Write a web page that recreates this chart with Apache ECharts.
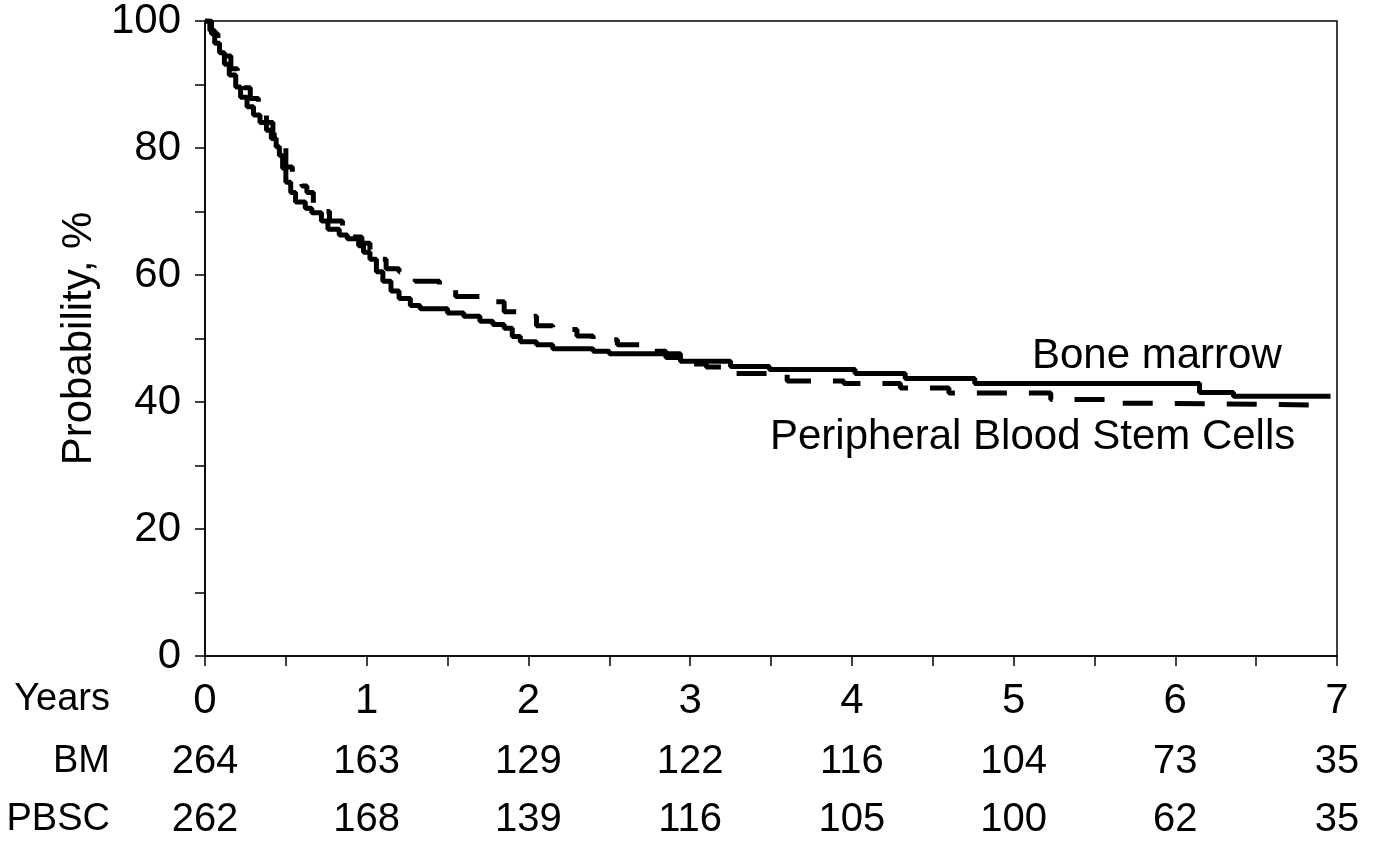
<!DOCTYPE html>
<html>
<head>
<meta charset="utf-8">
<script src="https://cdn.jsdelivr.net/npm/echarts@6/dist/echarts.min.js"></script>
<style>
  html, body { margin: 0; padding: 0; background: #fff; }
  #chart { width: 1376px; height: 842px; }
</style>
</head>
<body>
<div id="chart"></div>
<script>
  // Kaplan-Meier steps: [years, probability %]
  const bmSteps = [
    [0, 100], [0.03, 98.5], [0.06, 96.5], [0.09, 95], [0.12, 93.2], [0.15, 91.5],
    [0.19, 89.6], [0.22, 88], [0.26, 86.5], [0.3, 85.2], [0.34, 84], [0.38, 82.8],
    [0.41, 81.5], [0.44, 80.2], [0.46, 78.8], [0.48, 76.8], [0.5, 74.6], [0.53, 73],
    [0.56, 71.5], [0.62, 70.5], [0.66, 69.8], [0.72, 68.5], [0.76, 67.2], [0.83, 66.3],
    [0.88, 65.7], [0.95, 64.6], [0.98, 63.6], [1.02, 62.5], [1.06, 60.5], [1.1, 59],
    [1.15, 57.5], [1.2, 56.3], [1.27, 55.2], [1.33, 54.7], [1.5, 54], [1.6, 53.5],
    [1.7, 52.7], [1.78, 52.2], [1.85, 51.6], [1.9, 50.3], [1.95, 49.5], [2.05, 49],
    [2.15, 48.4], [2.4, 48], [2.5, 47.6], [2.94, 46.4], [3.25, 45.6], [3.49, 45.1],
    [4.02, 44.5], [4.33, 43.7], [4.76, 42.9], [6.15, 41.5], [6.36, 40.9], [6.96, 40.9]
  ]
  const pbscSteps = [
    [0, 100], [0.04, 98], [0.08, 96.5], [0.12, 94.5], [0.16, 92.5], [0.2, 91],
    [0.24, 89.5], [0.28, 87.8], [0.33, 86], [0.38, 84], [0.42, 82], [0.46, 80],
    [0.5, 77], [0.54, 75.5], [0.6, 74], [0.63, 73], [0.67, 71], [0.72, 70],
    [0.77, 68.5], [0.85, 67], [0.9, 66], [0.97, 65], [1.02, 64], [1.06, 62.5],
    [1.12, 61], [1.2, 60.5], [1.3, 59], [1.45, 58], [1.55, 56.6], [1.75, 55.8],
    [1.85, 54.2], [1.95, 53.5], [2.05, 52], [2.15, 51.4], [2.3, 50.4], [2.4, 49.8],
    [2.55, 49], [2.69, 48], [2.85, 47], [2.98, 46], [3.1, 45.5], [3.27, 44.5],
    [3.6, 43.3], [3.95, 42.9], [4.3, 42.2], [4.6, 41.4], [5.23, 40.4], [5.58, 39.8],
    [5.9, 39.5], [6.96, 39.5]
  ]
  const yearTicks = [0, 1, 2, 3, 4, 5, 6, 7]
  const bmAtRisk = [264, 163, 129, 122, 116, 104, 73, 35]
  const pbscAtRisk = [262, 168, 139, 116, 105, 100, 62, 35]
  const rowNames = ['Years', 'BM', 'PBSC']

  const font = 'Liberation Sans, Arial, sans-serif'
  const fs = 42
  const rowFs = 38
  const riskFs = 40
  const rowOffsets = [0, 61, 119]
  const rowTops = [681, 743, 801]

  const riskAxis = (values, offset) => ({
    type: 'value',
    position: 'bottom',
    min: 0,
    max: 7,
    interval: 1,
    offset: offset,
    axisLine: { show: false },
    axisTick: { show: false },
    splitLine: { show: false },
    axisLabel: {
      margin: 25,
      fontSize: riskFs,
      fontFamily: font,
      color: '#000',
      showMinLabel: true,
      showMaxLabel: true,
      formatter: v => {
        const i = yearTicks.indexOf(Math.round(v))
        return i >= 0 ? String(values[i]) : ''
      }
    }
  })

  const mychart = echarts.init(document.getElementById('chart'))
  const options = {
    animation: false,
    backgroundColor: '#fff',
    grid: {
      left: 205,
      right: 39,
      top: 18,
      bottom: 186,
      show: true,
      borderColor: '#000',
      borderWidth: 1.5
    },
    xAxis: [
      {
        type: 'value',
        min: 0,
        max: 7,
        interval: 1,
        axisLine: { show: true, lineStyle: { color: '#000', width: 1.5 } },
        axisTick: { show: true, length: 10, lineStyle: { color: '#000', width: 1.5 } },
        minorTick: { show: true, splitNumber: 2, length: 10, lineStyle: { color: '#000', width: 1.5 } },
        splitLine: { show: false },
        axisLabel: {
          margin: 24,
          fontSize: fs,
          fontFamily: font,
          color: '#000',
          showMinLabel: true,
          showMaxLabel: true
        }
      },
      riskAxis(bmAtRisk, rowOffsets[1]),
      riskAxis(pbscAtRisk, rowOffsets[2])
    ],
    yAxis: {
      type: 'value',
      min: 0,
      max: 100,
      interval: 10,
      name: 'Probability, %',
      nameLocation: 'middle',
      nameRotate: 90,
      nameGap: 104,
      nameTextStyle: { fontSize: fs, fontFamily: font, color: '#000' },
      axisLine: { show: true, lineStyle: { color: '#000', width: 1.5 } },
      axisTick: { show: true, length: 10, lineStyle: { color: '#000', width: 1.5 } },
      splitLine: { show: false },
      axisLabel: {
        margin: 24,
        fontSize: fs,
        fontFamily: font,
        color: '#000',
        formatter: v => (v % 20 === 0 ? String(v) : '')
      }
    },
    series: [
      {
        name: 'Bone marrow',
        type: 'line',
        step: 'end',
        showSymbol: false,
        lineStyle: { color: '#000', width: 5 },
        data: bmSteps
      },
      {
        name: 'Peripheral Blood Stem Cells',
        type: 'line',
        step: 'end',
        showSymbol: false,
        lineStyle: { color: '#000', width: 5, type: [30, 22] },
        data: pbscSteps
      }
    ],
    graphic: rowNames.map((name, i) => ({
      type: 'text',
      right: 1376 - 110,
      top: rowTops[i],
      style: { text: name, font: rowFs + 'px ' + font, fill: '#000', textAlign: 'right' }
    })).concat([
      {
        type: 'text',
        left: 1032,
        top: 335,
        style: { text: 'Bone marrow', font: fs + 'px ' + font, fill: '#000' }
      },
      {
        type: 'text',
        left: 770,
        top: 416,
        style: { text: 'Peripheral Blood Stem Cells', font: fs + 'px ' + font, fill: '#000' }
      }
    ])
  }
  mychart.setOption(options)
</script>
</body>
</html>
